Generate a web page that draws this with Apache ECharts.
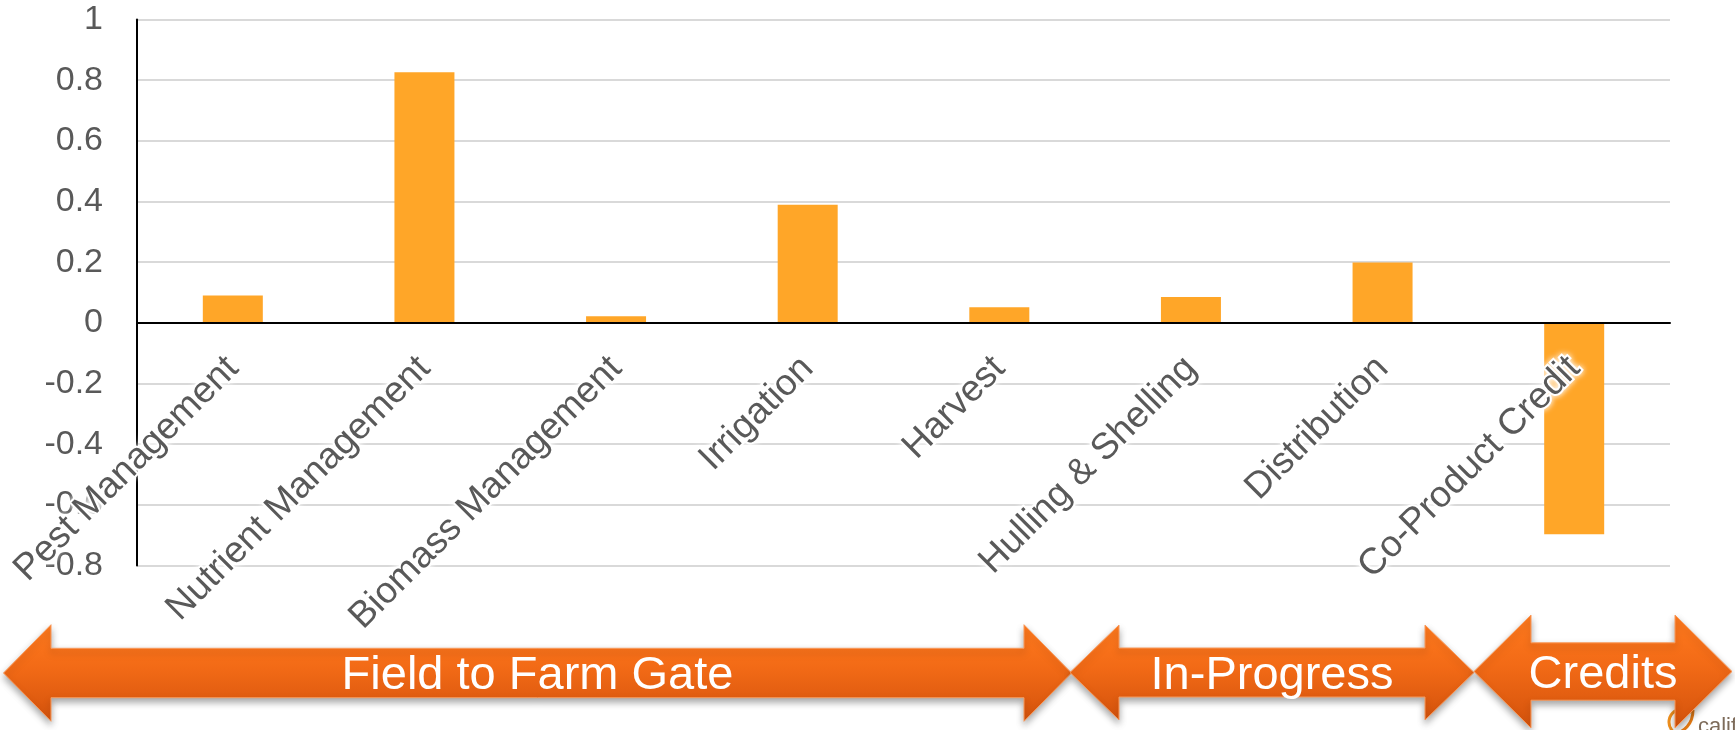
<!DOCTYPE html>
<html>
<head>
<meta charset="utf-8">
<title>Almond life-cycle stages</title>
<script src="https://cdn.jsdelivr.net/npm/echarts@6/dist/echarts.min.js"></script>
<style>
  html, body { margin: 0; padding: 0; background: #ffffff; }
  #chart { width: 1735px; height: 730px; }
</style>
</head>
<body>
<div id="chart"></div>
<script>
// Stage contributions
const categories = [
  'Pest Management',
  'Nutrient Management',
  'Biomass Management',
  'Irrigation',
  'Harvest',
  'Hulling & Shelling',
  'Distribution',
  'Co-Product Credit'
];
const values = [0.09, 0.826, 0.022, 0.389, 0.051, 0.085, 0.199, -0.697];

// Value axis range
const yMin = -0.8;
const yMax = 1;
const yStep = 0.2;

// Phase banners along the bottom
const phaseLabels = ['Field to Farm Gate', 'In-Progress', 'Credits'];

const FONT = '"Liberation Sans", Arial, Helvetica, sans-serif';
const TEXT_GREY = '#595959';
const BAR_ORANGE = '#FFA628';

// Plot area
const CHART_H = 730;
const GRID = { left: 137, right: 65, top: 19.5, bottom: 164.5 };
const plotH = CHART_H - GRID.top - GRID.bottom;
// lift the category axis (line + labels) from the grid bottom up to the zero value
const zeroLift = plotH * (0 - yMin) / (yMax - yMin);

// Banner geometry (pixels): start tip, end tip, centre line, half shaft, half head, head length
const bannerLayout = [
  { x0: 3.5,  x1: 1071.5, cy: 673,   shaft: 24.7, head: 48.3, len: 47.5 },
  { x0: 1070, x1: 1474,   cy: 672.5, shaft: 24.5, head: 47.5, len: 49 },
  { x0: 1474, x1: 1732,   cy: 671.5, shaft: 28.7, head: 56.5, len: 57 }
];

function doubleArrow(b) {
  const l = b.x0 + b.len, r = b.x1 - b.len;
  return [
    [b.x0, b.cy],
    [l, b.cy - b.head],
    [l, b.cy - b.shaft],
    [r, b.cy - b.shaft],
    [r, b.cy - b.head],
    [b.x1, b.cy],
    [r, b.cy + b.head],
    [r, b.cy + b.shaft],
    [l, b.cy + b.shaft],
    [l, b.cy + b.head]
  ];
}

const bannerFill = {
  type: 'linear', x: 0, y: 0, x2: 0, y2: 1,
  colorStops: [
    { offset: 0, color: '#FF7A1E' },
    { offset: 0.45, color: '#F26A16' },
    { offset: 1, color: '#D3520C' }
  ]
};

const graphics = [];

// small logo mark in the corner, partly hidden by the last banner
graphics.push({
  type: 'arc',
  z: 5,
  shape: { cx: 1682, cy: 722, r: 13, startAngle: Math.PI * 0.55, endAngle: Math.PI * 1.75, clockwise: true },
  style: { fill: 'none', stroke: '#F0901E', lineWidth: 3 }
});
graphics.push({
  type: 'bezierCurve',
  z: 5,
  shape: { x1: 1674, y1: 734, cpx1: 1684, cpy1: 732, cpx2: 1693, cpy2: 724, x2: 1693, y2: 710 },
  style: { fill: 'none', stroke: '#E87C14', lineWidth: 3 }
});
graphics.push({
  type: 'text',
  z: 5,
  style: {
    text: 'california',
    x: 1698, y: 727,
    fontSize: 22,
    fontFamily: FONT,
    fill: '#7d6b5a',
    align: 'left',
    verticalAlign: 'middle'
  }
});

bannerLayout.forEach((b, i) => {
  graphics.push({
    type: 'polygon',
    z: 10,
    shape: { points: doubleArrow(b) },
    style: {
      fill: bannerFill,
      stroke: '#F99A5C',
      lineWidth: 1,
      shadowBlur: 7,
      shadowOffsetY: 4,
      shadowColor: 'rgba(0,0,0,0.35)'
    }
  });
  graphics.push({
    type: 'text',
    z: 11,
    style: {
      text: phaseLabels[i],
      x: (b.x0 + b.x1) / 2,
      y: b.cy + 3.5,
      fontSize: 47,
      fontFamily: FONT,
      fill: '#ffffff',
      align: 'center',
      verticalAlign: 'middle',
      shadowColor: 'rgba(0,0,0,0.3)',
      shadowBlur: 3,
      shadowOffsetY: 2
    }
  });
});

const chart = echarts.init(document.getElementById('chart'), null, { renderer: 'canvas' });

chart.setOption({
  animation: false,
  backgroundColor: '#ffffff',
  grid: {
    left: GRID.left, right: GRID.right, top: GRID.top, bottom: GRID.bottom,
    containLabel: false,
    outerBoundsMode: 'none'
  },
  xAxis: {
    type: 'category',
    data: categories,
    position: 'bottom',
    offset: -zeroLift,
    z: 3,
    axisLine: { show: true, onZero: false, lineStyle: { color: '#000000', width: 2 } },
    axisTick: { show: false },
    splitLine: { show: false },
    axisLabel: {
      interval: 0,
      rotate: 45,
      margin: 40,
      padding: [19, 0, 0, 0],
      fontSize: 37,
      fontFamily: FONT,
      color: TEXT_GREY,
      textBorderColor: '#ffffff',
      textBorderWidth: 4,
      textShadowColor: '#ffffff',
      textShadowBlur: 6
    }
  },
  yAxis: {
    type: 'value',
    min: yMin,
    max: yMax,
    interval: yStep,
    z: 1,
    axisLine: { show: true, lineStyle: { color: '#000000', width: 2 } },
    axisTick: { show: false },
    splitLine: { show: true, lineStyle: { color: '#D9D9D9', width: 2 } },
    axisLabel: {
      margin: 34,
      fontSize: 34,
      fontFamily: FONT,
      color: TEXT_GREY,
      formatter: v => String(parseFloat(v.toFixed(1)))
    }
  },
  series: [{
    type: 'bar',
    data: values,
    barWidth: 60,
    itemStyle: { color: BAR_ORANGE },
    z: 2
  }],
  graphic: graphics
});
</script>
</body>
</html>
